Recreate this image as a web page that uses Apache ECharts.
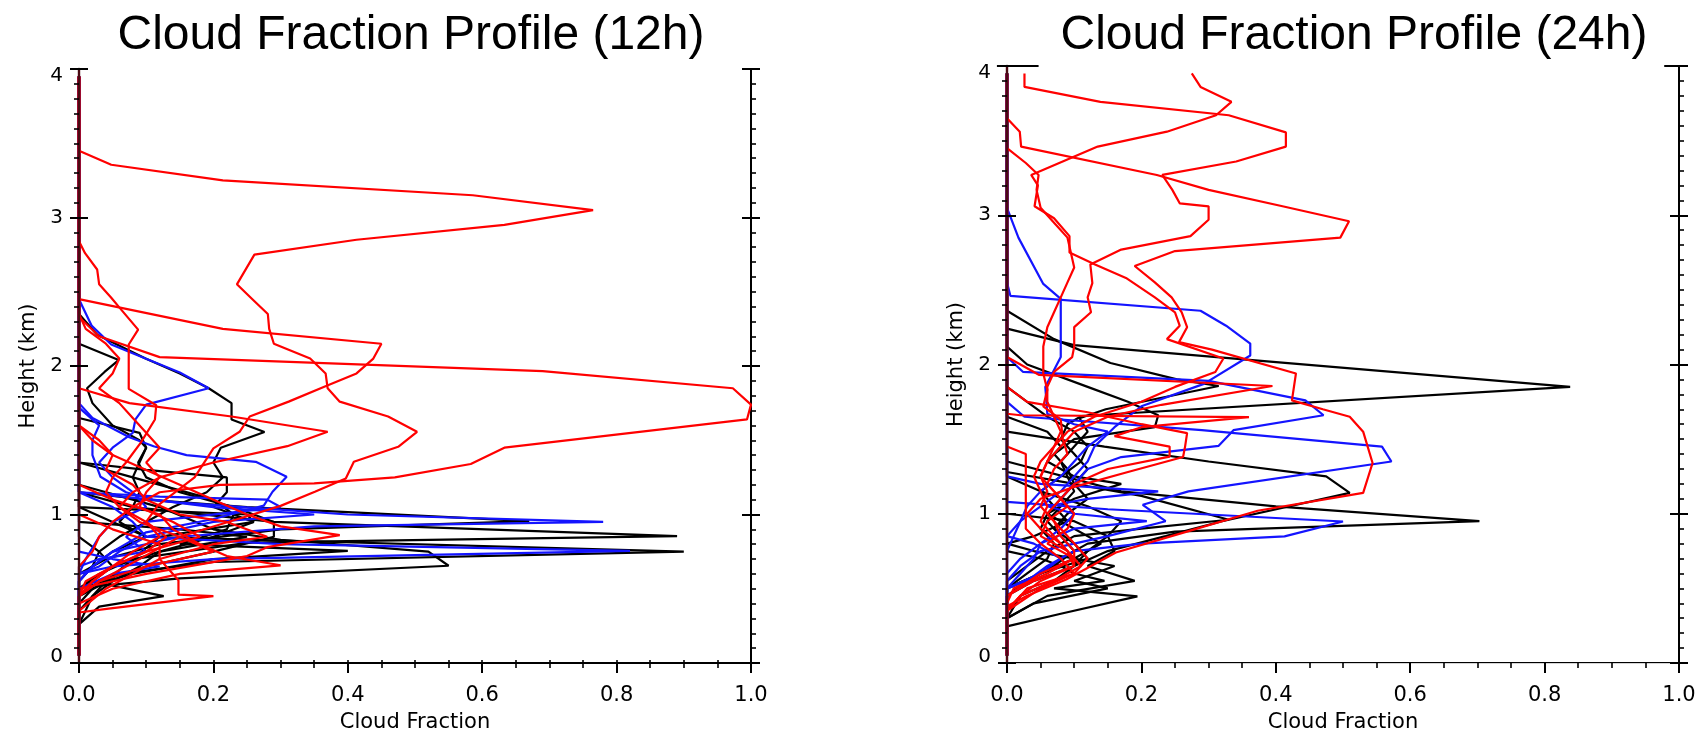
<!DOCTYPE html>
<html>
<head>
<meta charset="utf-8">
<script src="https://cdn.jsdelivr.net/npm/echarts@6/dist/echarts.min.js"></script>
<style>
  html, body { margin: 0; padding: 0; background: #ffffff; }
  #chart { width: 1706px; height: 731px; }
</style>
</head>
<body>
<div id="chart"></div>
<script>
// ---- Axis tick labels ----
const xTickLabels = ['0.0', '0.2', '0.4', '0.6', '0.8', '1.0'];
const yTickLabels = ['0', '1', '2', '3', '4'];
const panelTitles = ['Cloud Fraction Profile (12h)', 'Cloud Fraction Profile (24h)'];

// ---- 12h profiles: [cloud fraction, height km] ----
const k12a = [[0,3.95],[0,1.05],[0.05,0.95],[0.1,0.85],[0.9,0.75],[0.2,0.68],[0.06,0.6],[0.02,0.5],[0,0.4],[0,0.05]];
const k12b = [[0,3.95],[0,1.15],[0.08,1.05],[0.29,0.95],[0.89,0.855],[0.25,0.81],[0.08,0.7],[0.03,0.6],[0,0.5],[0,0.05]];
const k12c = [[0,3.95],[0,1.15],[0.1,1.1],[0.25,1.05],[0.67,0.955],[0.3,0.9],[0.12,0.8],[0.04,0.7],[0,0.6],[0,0.05]];
const k12d = [[0,3.95],[0,1.2],[0.12,1.05],[0.2,0.9],[0.3,0.83],[0.52,0.75],[0.55,0.655],[0.15,0.57],[0.03,0.52],[0,0.45],[0,0.05]];
const k12e = [[0,3.95],[0,1.35],[0.08,1.25],[0.2,1.1],[0.23,1.0],[0.22,0.9],[0.15,0.8],[0.4,0.755],[0.2,0.7],[0.08,0.6],[0,0.5],[0,0.05]];
const k12f = [[0,3.95],[0,2.35],[0.027,2.21],[0.099,2.05],[0.15,1.95],[0.193,1.85],[0.227,1.75],[0.227,1.64],[0.276,1.555],[0.211,1.45],[0.2,1.35],[0.214,1.25],[0.19,1.15],[0.14,1.05],[0.1,0.95],[0.06,0.85],[0.03,0.75],[0.02,0.65],[0,0.55],[0,0.05]];
const k12g = [[0,3.95],[0,2.15],[0.059,2.04],[0.038,1.96],[0.012,1.85],[0.02,1.75],[0.05,1.6],[0.09,1.5],[0.1,1.45],[0.09,1.35],[0.08,1.25],[0.09,1.15],[0.08,1.05],[0.06,0.95],[0.1,0.85],[0.05,0.75],[0.02,0.65],[0,0.55],[0,0.05]];
const k12h = [[0,3.95],[0,1.65],[0.09,1.55],[0.1,1.45],[0.088,1.35],[0.1,1.25],[0.15,1.15],[0.23,1.05],[0.29,0.95],[0.29,0.85],[0.2,0.75],[0.1,0.65],[0.03,0.55],[0,0.45],[0,0.05]];
const k12i = [[0,3.95],[0,1.35],[0.1,1.3],[0.22,1.25],[0.22,1.15],[0.2,1.05],[0.26,0.95],[0.2,0.85],[0.12,0.75],[0.05,0.65],[0,0.5],[0,0.05]];
const k12j = [[0,3.95],[0,0.85],[0.03,0.75],[0.05,0.65],[0.02,0.55],[0.126,0.45],[0.03,0.38],[0,0.26],[0,0.05]];
const k12k = [[0,3.95],[0,0.95],[0.15,0.9],[0.25,0.85],[0.12,0.75],[0.09,0.65],[0.05,0.55],[0.02,0.45],[0,0.26],[0,0.05]];
const k12l = [[0,3.95],[0,1.05],[0.25,1.0],[0.26,0.95],[0.12,0.85],[0.08,0.7],[0.04,0.55],[0,0.35],[0,0.05]];

const b12a = [[0,3.95],[0,1.15],[0.15,1.08],[0.4,1.0],[0.78,0.95],[0.35,0.92],[0.15,0.85],[0.05,0.75],[0.02,0.65],[0,0.55],[0,0.05]];
const b12b = [[0,3.95],[0,1.15],[0.05,1.05],[0.08,0.95],[0.1,0.85],[0.3,0.8],[0.82,0.755],[0.2,0.7],[0.05,0.65],[0,0.6],[0,0.05]];
const b12c = [[0,3.95],[0,2.45],[0.019,2.27],[0.048,2.145],[0.15,1.956],[0.193,1.85],[0.1,1.74],[0.084,1.64],[0.08,1.55],[0.05,1.45],[0.03,1.35],[0.05,1.25],[0.08,1.15],[0.1,1.05],[0.05,0.95],[0.03,0.85],[0.01,0.7],[0,0.6],[0,0.05]];
const b12d = [[0,3.95],[0,1.75],[0.02,1.65],[0.075,1.52],[0.111,1.46],[0.16,1.4],[0.263,1.355],[0.309,1.254],[0.288,1.153],[0.275,1.06],[0.2,0.97],[0.1,0.88],[0.05,0.75],[0.02,0.65],[0,0.55],[0,0.05]];
const b12e = [[0,3.95],[0,1.72],[0.03,1.6],[0.02,1.5],[0.02,1.4],[0.032,1.254],[0.07,1.15],[0.11,1.1],[0.2,1.05],[0.35,1.0],[0.2,0.95],[0.1,0.85],[0.06,0.75],[0.03,0.65],[0,0.6],[0,0.05]];
const b12f = [[0,3.95],[0,0.75],[0.05,0.7],[0.12,0.65],[0.05,0.6],[0,0.5],[0,0.05]];
const b12g = [[0,3.95],[0,1.15],[0.12,1.12],[0.28,1.1],[0.3,1.05],[0.1,0.95],[0.07,0.85],[0.1,0.75],[0.03,0.7],[0,0.65],[0,0.05]];

const r12a = [[0,3.95],[0,3.45],[0.048,3.355],[0.214,3.25],[0.586,3.15],[0.765,3.05],[0.633,2.95],[0.413,2.85],[0.261,2.75],[0.235,2.55],[0.258,2.45],[0.281,2.35],[0.283,2.25],[0.29,2.15],[0.344,2.05],[0.367,1.95],[0.37,1.85],[0.388,1.76],[0.46,1.66],[0.503,1.557],[0.475,1.456],[0.409,1.355],[0.397,1.243],[0.351,1.153],[0.3,1.058],[0.239,0.973],[0.15,0.85],[0.11,0.75],[0.07,0.65],[0.03,0.55],[0,0.45],[0,0.05]];
const r12b = [[0,3.95],[0,2.45],[0.214,2.25],[0.45,2.15],[0.438,2.05],[0.413,1.95],[0.365,1.86],[0.312,1.76],[0.254,1.66],[0.239,1.557],[0.2,1.445],[0.172,1.25],[0.117,1.06],[0.1,0.95],[0.12,0.85],[0.08,0.75],[0.05,0.65],[0.02,0.55],[0,0.45],[0,0.05]];
const r12c = [[0,3.95],[0,2.33],[0.03,2.2],[0.12,2.06],[0.69,1.965],[0.973,1.85],[1.0,1.74],[0.994,1.64],[0.633,1.45],[0.583,1.34],[0.47,1.25],[0.35,1.21],[0.21,1.2],[0.12,1.15],[0.08,1.05],[0.05,0.95],[0.03,0.85],[0.02,0.75],[0,0.65],[0,0.05]];
const r12d = [[0,3.95],[0,2.84],[0.009,2.76],[0.027,2.65],[0.03,2.55],[0.048,2.46],[0.059,2.4],[0.088,2.245],[0.074,2.145],[0.074,1.846],[0.115,1.736],[0.113,1.64],[0.092,1.484],[0.07,1.35],[0.05,1.25],[0.04,1.15],[0.06,1.05],[0.1,0.95],[0.13,0.85],[0.1,0.75],[0.05,0.65],[0.02,0.55],[0,0.45],[0,0.05]];
const r12e = [[0,3.95],[0,1.85],[0.075,1.75],[0.227,1.66],[0.37,1.557],[0.31,1.46],[0.2,1.35],[0.12,1.25],[0.08,1.15],[0.06,1.05],[0.09,0.95],[0.15,0.85],[0.2,0.75],[0.1,0.65],[0.03,0.55],[0,0.45],[0,0.05]];
const r12f = [[0,3.95],[0,1.6],[0.02,1.5],[0.05,1.4],[0.1,1.3],[0.15,1.2],[0.2,1.1],[0.25,1.0],[0.3,0.92],[0.388,0.861],[0.28,0.78],[0.25,0.72],[0.1,0.6],[0,0.5],[0,0.05]];
const r12g = [[0,3.95],[0,1.2],[0.05,1.1],[0.12,1.0],[0.14,0.9],[0.18,0.8],[0.22,0.72],[0.3,0.658],[0.15,0.6],[0.05,0.5],[0,0.4],[0,0.05]];
const r12h = [[0,3.95],[0,1.0],[0.05,0.9],[0.12,0.8],[0.12,0.7],[0.148,0.557],[0.148,0.46],[0.2,0.45],[0.044,0.366],[0,0.34],[0,0.05]];
const r12i = [[0,3.95],[0,1.6],[0.03,1.5],[0.05,1.4],[0.04,1.3],[0.08,1.2],[0.1,1.1],[0.15,1.0],[0.22,0.95],[0.28,0.85],[0.2,0.8],[0.12,0.7],[0.08,0.6],[0.04,0.5],[0,0.35],[0,0.05]];
const r12j = [[0,3.95],[0,2.35],[0.01,2.25],[0.04,2.15],[0.06,2.05],[0.05,1.95],[0.03,1.85],[0.06,1.75],[0.08,1.65],[0.1,1.55],[0.12,1.45],[0.1,1.35],[0.12,1.25],[0.1,1.15],[0.09,1.05],[0.14,0.95],[0.18,0.85],[0.1,0.75],[0.05,0.65],[0.01,0.55],[0,0.45],[0,0.05]];

// ---- 24h profiles: [cloud fraction, height km] ----
const k24a = [[0,3.95],[0,2.24],[0.1,2.13],[0.838,1.85],[0.111,1.655],[0.09,1.6],[0.08,1.5],[0.1,1.4],[0.12,1.3],[0.1,1.2],[0.08,1.1],[0.06,1.0],[0.05,0.9],[0.07,0.8],[0.06,0.7],[0.03,0.6],[0,0.5],[0,0.05]];
const k24b = [[0,3.95],[0,2.36],[0.07,2.17],[0.154,2.01],[0.253,1.9],[0.315,1.856],[0.147,1.7],[0.108,1.64],[0.12,1.55],[0.1,1.45],[0.08,1.35],[0.09,1.25],[0.1,1.15],[0.08,1.05],[0.06,0.95],[0.08,0.85],[0.1,0.75],[0.07,0.65],[0.03,0.55],[0,0.45],[0,0.05]];
const k24c = [[0,3.95],[0,2.12],[0.03,2.0],[0.12,1.85],[0.18,1.75],[0.225,1.66],[0.22,1.58],[0.1,1.5],[0.07,1.4],[0.09,1.3],[0.1,1.2],[0.12,1.1],[0.09,1.0],[0.07,0.9],[0.1,0.8],[0.12,0.7],[0.05,0.6],[0,0.45],[0,0.05]];
const k24d = [[0,3.95],[0,1.55],[0.145,1.45],[0.3,1.35],[0.475,1.25],[0.51,1.14],[0.32,0.95],[0.236,0.85],[0.15,0.75],[0.1,0.65],[0.04,0.55],[0,0.45],[0,0.05]];
const k24e = [[0,3.95],[0,1.35],[0.17,1.15],[0.4,1.05],[0.703,0.95],[0.25,0.88],[0.12,0.8],[0.08,0.7],[0.05,0.6],[0,0.5],[0,0.05]];
const k24f = [[0,3.95],[0,0.75],[0.05,0.7],[0.08,0.65],[0.1,0.6],[0.145,0.55],[0.07,0.5],[0.194,0.446],[0.08,0.33],[0,0.245],[0,0.05]];
const k24g = [[0,3.95],[0,1.25],[0.05,1.15],[0.12,1.05],[0.17,0.95],[0.15,0.85],[0.16,0.75],[0.12,0.65],[0.19,0.55],[0.06,0.45],[0,0.3],[0,0.05]];
const k24h = [[0,3.95],[0,1.65],[0.06,1.55],[0.08,1.45],[0.06,1.35],[0.1,1.25],[0.17,1.2],[0.1,1.1],[0.06,1.0],[0.1,0.9],[0.14,0.8],[0.1,0.7],[0.05,0.6],[0,0.5],[0,0.05]];
const k24i = [[0,3.95],[0,1.85],[0.03,1.75],[0.06,1.65],[0.1,1.55],[0.12,1.45],[0.11,1.35],[0.08,1.25],[0.05,1.15],[0.07,1.05],[0.09,0.95],[0.04,0.85],[0,0.8],[0,0.05]];
const k24j = [[0,3.95],[0,1.0],[0.1,0.95],[0.15,0.85],[0.12,0.75],[0.1,0.65],[0.07,0.55],[0.02,0.45],[0,0.3],[0,0.05]];
const k24k = [[0,3.95],[0,0.8],[0.04,0.75],[0.16,0.65],[0.1,0.55],[0.15,0.5],[0.04,0.4],[0,0.3],[0,0.05]];
const k24l = [[0,3.95],[0,1.28],[0.1,1.2],[0.2,1.12],[0.33,0.96],[0.2,0.9],[0.1,0.85],[0.06,0.75],[0.03,0.65],[0,0.55],[0,0.05]];

const b24a = [[0,3.95],[0,3.05],[0.017,2.85],[0.054,2.54],[0.08,2.44],[0.08,2.05],[0.057,1.85],[0.06,1.67],[0.1,1.6],[0.15,1.55],[0.12,1.45],[0.1,1.35],[0.08,1.25],[0.05,1.15],[0.03,1.05],[0.02,0.95],[0.01,0.85],[0,0.75],[0,0.05]];
const b24b = [[0,3.95],[0,2.55],[0.005,2.46],[0.288,2.36],[0.326,2.26],[0.362,2.14],[0.362,2.06],[0.293,1.87],[0.2,1.72],[0.16,1.58],[0.13,1.45],[0.12,1.35],[0.1,1.25],[0.08,1.15],[0.05,1.05],[0.02,0.95],[0,0.85],[0,0.05]];
const b24c = [[0,3.95],[0,2.05],[0.024,1.95],[0.3,1.89],[0.444,1.76],[0.471,1.66],[0.337,1.56],[0.315,1.455],[0.17,1.38],[0.12,1.3],[0.1,1.2],[0.08,1.1],[0.1,1.0],[0.08,0.9],[0.05,0.8],[0.02,0.7],[0,0.6],[0,0.05]];
const b24d = [[0,3.95],[0,1.75],[0.026,1.65],[0.29,1.56],[0.558,1.45],[0.572,1.35],[0.27,1.15],[0.202,1.06],[0.236,0.95],[0.15,0.85],[0.05,0.75],[0.02,0.65],[0,0.55],[0,0.05]];
const b24e = [[0,3.95],[0,1.08],[0.15,1.03],[0.5,0.948],[0.413,0.848],[0.2,0.8],[0.1,0.75],[0.06,0.65],[0.03,0.55],[0,0.5],[0,0.05]];
const b24f = [[0,3.95],[0,1.25],[0.05,1.2],[0.225,1.15],[0.12,1.1],[0.06,1.05],[0.1,1.0],[0.208,0.95],[0.1,0.9],[0.05,0.8],[0.04,0.7],[0.02,0.6],[0,0.5],[0,0.05]];
const b24g = [[0,3.95],[0,0.85],[0.04,0.8],[0.08,0.7],[0.05,0.6],[0,0.5],[0,0.05]];

const r24a = [[0.026,3.95],[0.026,3.86],[0.139,3.76],[0.33,3.67],[0.415,3.555],[0.415,3.46],[0.341,3.36],[0.231,3.27],[0.246,3.17],[0.257,3.08],[0.3,3.06],[0.3,2.97],[0.273,2.86],[0.17,2.77],[0.124,2.67],[0.127,2.545],[0.12,2.45],[0.125,2.35],[0.1,2.25],[0.1,2.12],[0.097,2.05],[0.07,1.95],[0.06,1.85],[0.06,1.75],[0.07,1.65],[0.08,1.55],[0.07,1.45],[0.06,1.35],[0.05,1.25],[0.06,1.15],[0.05,1.05],[0.07,0.95],[0.08,0.85],[0.1,0.75],[0.1,0.65],[0.05,0.55],[0.02,0.45],[0,0.35],[0,0.05]];
const r24b = [[0.275,3.95],[0.288,3.86],[0.334,3.76],[0.311,3.67],[0.238,3.56],[0.135,3.46],[0.036,3.27],[0.046,3.2],[0.041,3.06],[0.07,2.98],[0.093,2.86],[0.093,2.75],[0.131,2.67],[0.177,2.58],[0.22,2.45],[0.25,2.35],[0.257,2.26],[0.238,2.17],[0.322,2.04],[0.31,1.95],[0.25,1.85],[0.2,1.75],[0.13,1.65],[0.09,1.55],[0.07,1.45],[0.05,1.35],[0.04,1.25],[0.05,1.15],[0.06,1.05],[0.05,0.95],[0.07,0.85],[0.09,0.75],[0.11,0.65],[0.07,0.55],[0.02,0.45],[0,0.35],[0,0.05]];
const r24c = [[0,3.95],[0,3.65],[0.019,3.56],[0.021,3.46],[0.223,3.27],[0.3,3.17],[0.41,3.06],[0.509,2.96],[0.496,2.85],[0.25,2.76],[0.19,2.66],[0.22,2.55],[0.245,2.45],[0.26,2.35],[0.268,2.25],[0.256,2.15],[0.305,2.1],[0.43,1.94],[0.424,1.76],[0.47,1.7],[0.51,1.65],[0.53,1.55],[0.544,1.34],[0.53,1.14],[0.373,1.02],[0.26,0.87],[0.162,0.74],[0.117,0.63],[0.088,0.56],[0.03,0.45],[0,0.38],[0,0.05]];
const r24d = [[0,3.95],[0,3.45],[0.028,3.35],[0.047,3.27],[0.044,3.17],[0.05,3.05],[0.07,2.95],[0.09,2.85],[0.095,2.75],[0.1,2.65],[0.09,2.55],[0.08,2.45],[0.07,2.35],[0.06,2.25],[0.054,2.12],[0.054,1.94],[0.06,1.83],[0.054,1.72],[0.08,1.63],[0.083,1.5],[0.09,1.4],[0.07,1.3],[0.06,1.2],[0.08,1.1],[0.1,1.0],[0.09,0.9],[0.06,0.8],[0.1,0.7],[0.06,0.6],[0.01,0.5],[0,0.4],[0,0.05]];
const r24e = [[0,3.95],[0,2.05],[0.048,1.93],[0.395,1.856],[0.23,1.73],[0.15,1.65],[0.1,1.55],[0.08,1.45],[0.06,1.35],[0.05,1.25],[0.07,1.15],[0.09,1.05],[0.06,0.95],[0.05,0.85],[0.09,0.75],[0.1,0.65],[0.04,0.55],[0,0.45],[0,0.05]];
const r24f = [[0,3.95],[0,1.67],[0.02,1.66],[0.36,1.647],[0.2,1.58],[0.16,1.52],[0.242,1.45],[0.242,1.383],[0.15,1.3],[0.1,1.2],[0.08,1.1],[0.06,1.0],[0.08,0.9],[0.1,0.8],[0.12,0.7],[0.1,0.6],[0.03,0.5],[0,0.35],[0,0.05]];
const r24g = [[0,3.95],[0,1.85],[0.03,1.75],[0.12,1.68],[0.2,1.6],[0.268,1.54],[0.265,1.45],[0.262,1.38],[0.18,1.28],[0.1,1.18],[0.05,1.1],[0.03,1.0],[0.05,0.9],[0.08,0.8],[0.1,0.7],[0.05,0.6],[0,0.45],[0,0.05]];
const r24h = [[0,3.95],[0,1.45],[0.028,1.4],[0.028,1.2],[0.028,0.9],[0.05,0.8],[0.08,0.7],[0.1,0.6],[0.05,0.5],[0,0.35],[0,0.05]];

// Profile groups per panel, drawn black first, then blue, then red
const panels = [
  { black: [k12a,k12b,k12c,k12d,k12e,k12f,k12g,k12h,k12i,k12j,k12k,k12l],
    blue:  [b12a,b12b,b12c,b12d,b12e,b12f,b12g],
    red:   [r12a,r12b,r12c,r12d,r12e,r12f,r12g,r12h,r12i,r12j] },
  { black: [k24a,k24b,k24c,k24d,k24e,k24f,k24g,k24h,k24i,k24j,k24k,k24l],
    blue:  [b24a,b24b,b24c,b24d,b24e,b24f,b24g],
    red:   [r24a,r24b,r24c,r24d,r24e,r24f,r24g,r24h] }
];
const lineColors = { black: '#000000', blue: '#1414ff', red: '#ff0000' };

const LABEL_FONT = 'DejaVu Sans';
const grids = [
  { left: 79, top: 69, width: 672, height: 594, containLabel: false, outerBoundsMode: 'none' },
  { left: 1007, top: 66, width: 672, height: 597, containLabel: false, outerBoundsMode: 'none' }
];

const xAxes = [];
const yAxes = [];
const mainX = [];
const mainY = [];

grids.forEach((g, gi) => {
  const black = { color: '#000', width: 2 };
  // bottom axis with labels
  mainX.push(xAxes.length);
  xAxes.push({
    gridIndex: gi, type: 'value', position: 'bottom', min: 0, max: 1, interval: 0.2,
    axisLine: { show: true, lineStyle: black },
    axisTick: { show: true, inside: false, length: 10, lineStyle: { color: '#000', width: 2 } },
    minorTick: { show: true, splitNumber: 4, length: 5, lineStyle: { color: '#000', width: 1.6 } },
    splitLine: { show: false }, minorSplitLine: { show: false },
    axisLabel: { margin: 22, fontFamily: LABEL_FONT, fontSize: 21, color: '#000',
      formatter: v => xTickLabels[Math.round(v / 0.2)] },
    name: 'Cloud Fraction', nameLocation: 'middle', nameGap: 49,
    nameTextStyle: { fontFamily: LABEL_FONT, fontSize: 21, color: '#000' }
  });
  // top axis
  if (gi === 0) {
    xAxes.push({
      gridIndex: gi, type: 'value', position: 'top', min: 0, max: 1, interval: 0.05,
      axisLine: { show: true, lineStyle: black },
      axisTick: { show: true, inside: false, length: 3, lineStyle: { color: '#000', width: 1.6 } },
      axisLabel: { show: false }, splitLine: { show: false }
    });
  } else {
    xAxes.push({
      gridIndex: gi, type: 'value', position: 'top', min: 0, max: 1, interval: 0.2,
      axisLine: { show: true, lineStyle: { color: '#d4d4d4', width: 1 } },
      axisTick: { show: false }, axisLabel: { show: false }, splitLine: { show: false }
    });
  }
  // left axis (outer ticks + labels); drawn above the profiles
  mainY.push(yAxes.length);
  yAxes.push({
    gridIndex: gi, type: 'value', position: 'left', min: 0, max: 4, interval: 1, z: 5,
    axisLine: { show: true, lineStyle: { color: '#4a0a12', width: 2.4 } },
    axisTick: { show: true, inside: false, length: 9, lineStyle: { color: '#000', width: 2 } },
    minorTick: { show: true, splitNumber: 10, length: 5, lineStyle: { color: '#000', width: 1.6 } },
    splitLine: { show: false }, minorSplitLine: { show: false },
    axisLabel: { margin: 16, fontFamily: LABEL_FONT, fontSize: 20, lineHeight: 13, color: '#000',
      formatter: v => yTickLabels[Math.round(v)],
      verticalAlignMinLabel: 'bottom', verticalAlignMaxLabel: 'top' },
    name: 'Height (km)', nameLocation: 'middle', nameGap: 40,
    nameTextStyle: { fontFamily: LABEL_FONT, fontSize: 21, color: '#000' }
  });
  // left axis inner half of the major ticks
  yAxes.push({
    gridIndex: gi, type: 'value', position: 'left', min: 0, max: 4, interval: 1, z: 5,
    axisLine: { show: false },
    axisTick: { show: true, inside: true, length: 9, lineStyle: { color: '#000', width: 2 } },
    axisLabel: { show: false }, splitLine: { show: false }
  });
  // right axis
  yAxes.push({
    gridIndex: gi, type: 'value', position: 'right', min: 0, max: 4, interval: 1,
    axisLine: { show: true, lineStyle: black },
    axisTick: { show: true, inside: false, length: 9, lineStyle: { color: '#000', width: 2 } },
    minorTick: { show: true, splitNumber: 10, length: 5, lineStyle: { color: '#000', width: 1.6 } },
    axisLabel: { show: false }, splitLine: { show: false }, minorSplitLine: { show: false }
  });
  yAxes.push({
    gridIndex: gi, type: 'value', position: 'right', min: 0, max: 4, interval: 1,
    axisLine: { show: false },
    axisTick: { show: true, inside: true, length: 9, lineStyle: { color: '#000', width: 2 } },
    axisLabel: { show: false }, splitLine: { show: false }
  });
});

const series = [];
panels.forEach((p, pi) => {
  ['black', 'blue', 'red'].forEach(kind => {
    p[kind].forEach((prof, i) => {
      series.push({
        name: kind + '-' + pi + '-' + i,
        type: 'line',
        xAxisIndex: mainX[pi],
        yAxisIndex: mainY[pi],
        data: prof,
        symbol: 'none',
        showSymbol: false,
        lineStyle: { color: lineColors[kind], width: 2.2 },
        emphasis: { disabled: true },
        animation: false
      });
    });
  });
});

const chart = echarts.init(document.getElementById('chart'), null, { renderer: 'canvas' });
chart.setOption({
  backgroundColor: '#ffffff',
  animation: false,
  title: [
    { text: panelTitles[0], left: 406, top: 7, textAlign: 'center',
      textStyle: { fontFamily: 'Liberation Sans', fontSize: 48, fontWeight: 'normal', color: '#000' } },
    { text: panelTitles[1], left: 1349, top: 7, textAlign: 'center',
      textStyle: { fontFamily: 'Liberation Sans', fontSize: 48, fontWeight: 'normal', color: '#000' } }
  ],
  grid: grids,
  xAxis: xAxes,
  yAxis: yAxes,
  series: series
});

// short black end pieces of the right panel's top frame line
const seg = (x0, x1) => {
  const a = chart.convertToPixel({ xAxisIndex: mainX[1], yAxisIndex: mainY[1] }, [x0, 4]);
  const b = chart.convertToPixel({ xAxisIndex: mainX[1], yAxisIndex: mainY[1] }, [x1, 4]);
  return { type: 'line', shape: { x1: a[0], y1: a[1], x2: b[0], y2: b[1] },
           style: { stroke: '#000', lineWidth: 2 }, z: 10 };
};
chart.setOption({ graphic: [seg(-0.015, 0.047), seg(0.978, 1.013)] });
</script>
</body>
</html>
